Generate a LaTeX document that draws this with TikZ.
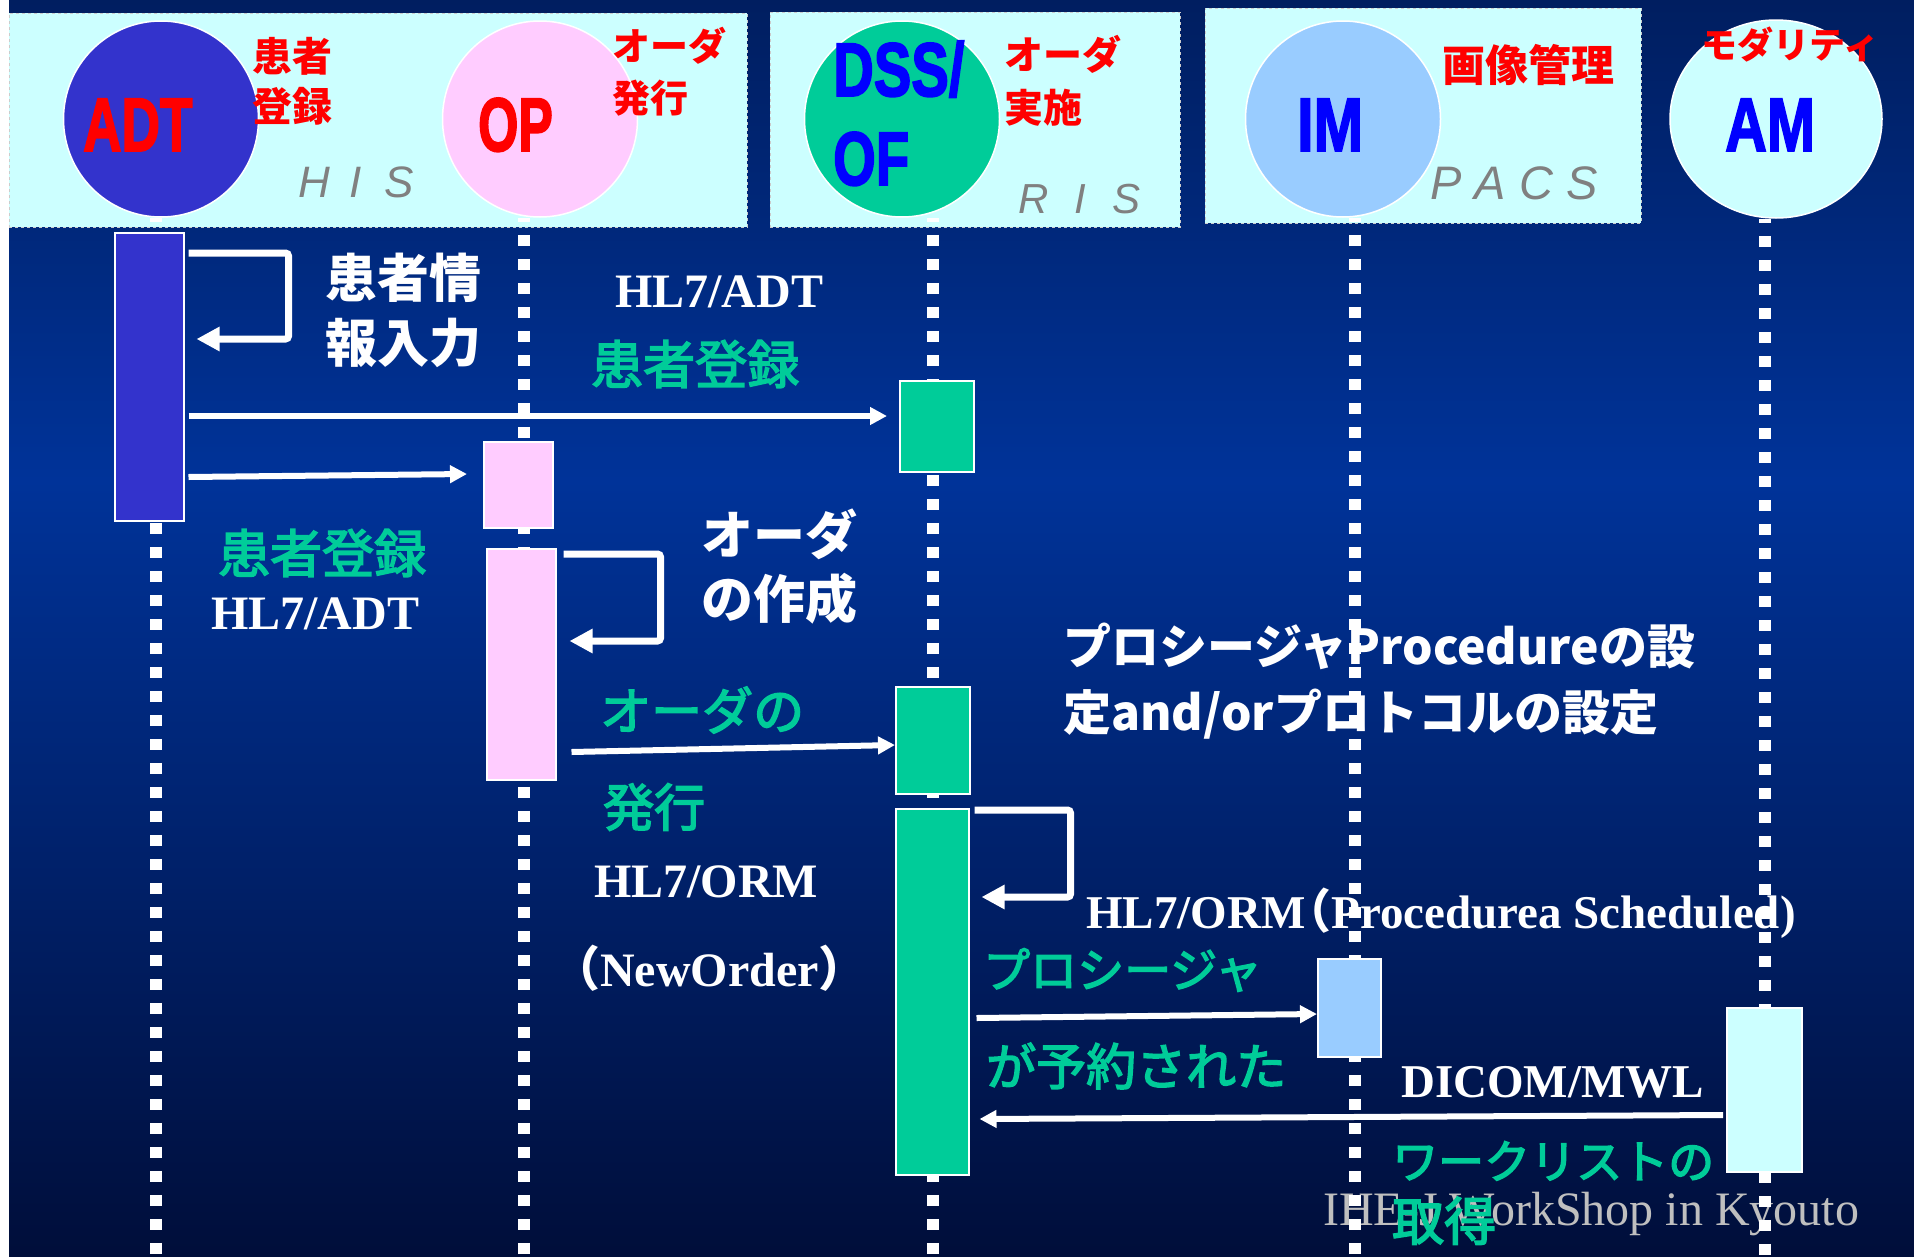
\documentclass[tikz,border=0pt]{standalone}
\usepackage{fontspec}
\setmainfont{Liberation Serif}
\newfontfamily\cjk{Noto Sans CJK JP}
\newfontfamily\cjkmid[FakeBold=3]{Noto Sans CJK JP}
\newfontfamily\sysfont{Liberation Sans}
\newfontfamily\sysheavy[FakeBold=2.5]{Liberation Sans Bold}
\usetikzlibrary{positioning,shapes.geometric,arrows.meta}
\definecolor{syscyan}{HTML}{CCFFFF}
\definecolor{adtfill}{HTML}{3333CC}
\definecolor{opfill}{HTML}{FFCCFF}
\definecolor{dssfill}{HTML}{00CC99}
\definecolor{imfill}{HTML}{99CCFF}
\definecolor{msggreen}{HTML}{00CC99}
\definecolor{bgtop}{HTML}{001E60}
\definecolor{bgmid}{HTML}{003399}
\definecolor{bgbot}{HTML}{000E3A}
\newcommand\fsz[2]{\fontsize{#1}{#2}\selectfont}

\begin{document}
\begin{tikzpicture}[x=1pt,y=-1pt,
    sysbox/.style={draw=white!60!gray, dashed, fill=syscyan, anchor=north west, inner sep=0},
    actor/.style={ellipse, draw=white, line width=1.5pt, inner sep=0, minimum width=195pt, minimum height=196pt},
    sysname/.style={anchor=base west, inner sep=0, font=\sysheavy\fsz{76}{76}, text=blue},
    sysgroup/.style={anchor=base west, inner sep=0, font=\sysfont\itshape\fsz{#1}{#1}, text=gray},
    role/.style 2 args={anchor=west, inner sep=0, align=left, text=red, font=\cjk\bfseries\fsz{#1}{#2}},
    note/.style 2 args={anchor=west, inner sep=0, align=left, text=white, font=\cjk\bfseries\fsz{#1}{#2}},
    greennote/.style 2 args={anchor=west, inner sep=0, align=left, text=msggreen, font=\cjkmid\fsz{#1}{#2}},
    proto/.style={anchor=base west, inner sep=0, text=white, font=\bfseries\fsz{#1}{#1}},
    lifeline/.style={white, line width=12pt, dash pattern=on 11pt off 13pt, dash phase=7pt},
    actbox/.style={draw=white, line width=1.5pt, anchor=north west, inner sep=0},
    msg/.style={white, line width=6pt, -{Triangle[length=17pt,width=17pt]}},
    selfmsg/.style={white, line width=7pt, rounded corners=3pt, -{Triangle[length=23pt,width=23pt]}}]

  % backdrop
  \useasboundingbox (0,0) rectangle (1914,1256);
  \fill[white] (0,0) rectangle (1914,1256);
  \shade[top color=bgtop, bottom color=bgmid] (9,0) rectangle (1914,481);
  \shade[top color=bgmid, bottom color=bgbot] (9,480) rectangle (1914,1256);

  % systems and actors
  \node[sysbox, minimum width=738pt, minimum height=214pt] (his) at (9,13) {};
  \node[sysbox, minimum width=410pt, minimum height=215pt] (ris) at (770,12) {};
  \node[sysbox, minimum width=436pt, minimum height=215pt] (pacs) at (1205,8) {};

  \node[actor, fill=adtfill] (adt) at (161,119) {};
  \node[actor, fill=opfill] (op) at (540,119) {};
  \node[actor, fill=dssfill] (dss) at (902,119) {};
  \node[actor, fill=imfill] (im) at (1343,119) {};
  \node[actor, fill=syscyan, minimum width=212pt, minimum height=198pt] (am) at (1776,119) {};

  \node[sysname, text=red] (adtname) at (83,151) {\scalebox{0.7}[1]{ADT}};
  \node[sysname, text=red] (opname) at (478,151) {\scalebox{0.68}[1]{OP}};
  \node[sysname] (dssname) at (833,96) {\scalebox{0.74}[1]{DSS/}};
  \node[sysname] (ofname) at (833,185) {\scalebox{0.72}[1]{OF}};
  \node[sysname] (imname) at (1297,151) {\scalebox{0.78}[1]{IM}};
  \node[sysname] (amname) at (1725,151) {\scalebox{0.76}[1]{AM}};

  \node[role={40}{50}] (adtrole) at (252,81) {患者\\登録};
  \node[role={38}{52}] (oprole) at (612,72) {オーダ\\発行};
  \node[role={39}{53}] (dssrole) at (1004,81) {オーダ\\実施};
  \node[role={43}{43}] (imrole) at (1442,65) {画像管理};
  \node[role={36}{36}] (amrole) at (1701,45) {モダリティ};

  \node[sysgroup=44] (hisname) at (298,197) {H\kern20pt I\kern22pt S};
  \node[sysgroup=42] (risname) at (1018,213) {R\kern26pt I\kern26pt S};
  \node[sysgroup=47] (pacsname) at (1430,199) {P\kern13pt A\kern14pt C\kern13pt S};

  % message texts
  \node[note={52}{65}] (entry) at (325,310) {患者情\\報入力};
  \node[proto=48] (adtmsg1) at (615,307) {HL7/ADT};
  \node[greennote={52}{52}] (reg1) at (591,364) {患者登録};
  \node[greennote={52}{52}] (reg2) at (218,553) {患者登録};
  \node[proto=48] (adtmsg2) at (211,629) {HL7/ADT};
  \node[note={52}{64}] (makeorder) at (701,567) {オーダ\\の作成};
  \node[greennote={51}{51}] (issue1) at (600,710) {オーダの};
  \node[greennote={51}{51}] (issue2) at (603,807) {発行};
  \node[proto=48] (ormmsg) at (594,897) {HL7/ORM};
  \node[proto=48] (neworder) at (552,986) {{\cjk （}NewOrder{\cjk ）}};
  \node[note={48}{66}] (procset) at (1063,681) {プロシージャProcedureの設\\定and/orプロトコルの設定};
  \node[proto=47] (schedmsg) at (1086,928) {HL7/ORM\kern-0.45em{\cjk （}Procedurea Scheduled)};
  \node[greennote={47}{47}] (sched1) at (983,970) {プロシージャ};
  \node[greennote={50}{50}] (sched2) at (986,1066) {が予約された};
  \node[proto=47] (mwlmsg) at (1401,1097) {DICOM/MWL};
  \node[anchor=base west, inner sep=0, text=gray!50!white, font=\fsz{48}{48}] (credit) at (1323,1225) {IHE-J WorkShop in Kyouto};
  \node[greennote={46}{62}] (worklist) at (1392,1193) {ワークリストの\\{\fsz{52}{52}取得}};

  % lifelines
  \foreach \who/\dx in {adt/-5, op/-16, dss/31, im/12, am/-11}
    \draw[lifeline] ([xshift=\dx pt]\who.south) -- ++(0,1045);

  % activations
  \node[actbox, fill=adtfill, minimum width=69pt, minimum height=288pt] (adtbox) at (114,232) {};
  \node[actbox, fill=opfill, minimum width=69pt, minimum height=86pt] (opbox1) at (483,441) {};
  \node[actbox, fill=opfill, minimum width=69pt, minimum height=231pt] (opbox2) at (486,548) {};
  \node[actbox, fill=dssfill, minimum width=74pt, minimum height=91pt] (dssbox1) at (899,380) {};
  \node[actbox, fill=dssfill, minimum width=74pt, minimum height=107pt] (dssbox2) at (895,686) {};
  \node[actbox, fill=dssfill, minimum width=73pt, minimum height=366pt] (dssbox3) at (895,808) {};
  \node[actbox, fill=imfill, minimum width=63pt, minimum height=98pt] (imbox) at (1317,958) {};
  \node[actbox, fill=syscyan, minimum width=75pt, minimum height=164pt] (ambox) at (1726,1007) {};

  % messages
  \draw[selfmsg] ([xshift=4pt,yshift=-21pt]adtbox.north east) -- ++(100,0) -- ++(0,86) -- ++(-92,0);
  \draw[msg] ([xshift=4pt]adtbox.east |- 0,416) -- ([xshift=-12pt]dssbox1.west |- 0,416);
  \draw[msg] ([xshift=4pt]adtbox.east |- 0,477) -- ([xshift=-16pt]opbox1.west |- 0,474);
  \draw[selfmsg] ([xshift=7pt,yshift=-6pt]opbox2.north east) -- ++(97,0) -- ++(0,87) -- ++(-91,0);
  \draw[msg] ([xshift=15pt]opbox2.east |- 0,752) -- (dssbox2.west |- 0,745);
  \draw[selfmsg] ([xshift=5pt,yshift=-2pt]dssbox3.north east) -- ++(96,0) -- ++(0,87) -- ++(-89,0);
  \draw[msg] ([xshift=7pt]dssbox3.east |- 0,1018) -- (imbox.west |- 0,1014);
  \draw[msg] ([xshift=-3pt]ambox.west |- 0,1115) -- ([xshift=10pt]dssbox3.east |- 0,1119);
\end{tikzpicture}
\end{document}
